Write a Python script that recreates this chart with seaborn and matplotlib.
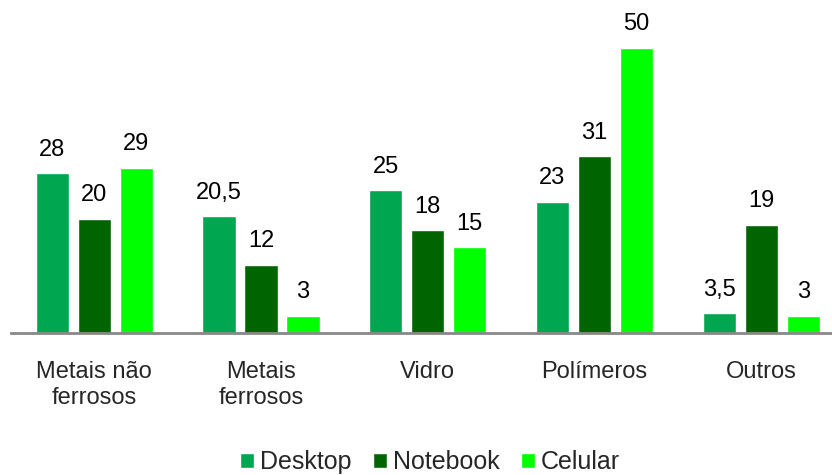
import matplotlib
matplotlib.use("Agg")
import matplotlib.pyplot as plt
import seaborn as sns
import pandas as pd

categories = ["Metais não\nferrosos", "Metais\nferrosos", "Vidro", "Polímeros", "Outros"]
series_names = ["Desktop", "Notebook", "Celular"]
desktop = [28, 20.5, 25, 23, 3.5]
notebook = [20, 12, 18, 31, 19]
celular = [29, 3, 15, 50, 3]
colors = ["#00A650", "#006400", "#00FF00"]

rows = []
for name, vals in zip(series_names, [desktop, notebook, celular]):
    for c, v in zip(categories, vals):
        rows.append({"cat": c, "serie": name, "val": v})
df = pd.DataFrame(rows)

sns.set_theme(style="white")
plt.rcParams["font.family"] = ["Liberation Sans", "DejaVu Sans"]

fig = plt.figure(figsize=(8.32, 4.75), dpi=100)
ax = fig.add_axes([11 / 832, 1 - 333 / 475, 833.5 / 832, 333 / 475])

sns.barplot(data=df, x="cat", y="val", hue="serie", order=categories,
            hue_order=series_names, palette=colors, width=0.756, gap=0.21,
            saturation=1, legend=True, ax=ax, errorbar=None)

for cont in ax.containers:
    labels = [f"{b.get_height():g}".replace(".", ",") for b in cont]
    ax.bar_label(cont, labels=labels, padding=9, fontsize=17, color="black")

ax.set_ylim(0, 58.4)
ax.set_xlim(-0.5, 4.5)
ax.set_xlabel("")
ax.set_ylabel("")
ax.set_yticks([])
ax.tick_params(axis="x", length=0, labelsize=17, pad=20)
for t in ax.get_xticklabels():
    t.set_linespacing(1.25)
for s in ["top", "right", "left"]:
    ax.spines[s].set_visible(False)
ax.spines["bottom"].set_color("#888888")
ax.spines["bottom"].set_linewidth(2)

handles, labels = ax.get_legend_handles_labels()
ax.get_legend().remove()
fig.legend(handles, labels, loc="lower center", bbox_to_anchor=(0.517, -0.045),
           ncol=3, frameon=False, fontsize=18, handlelength=0.55,
           handleheight=0.55, handletextpad=0.25, columnspacing=0.85)

fig.savefig("out.png", dpi=100)
